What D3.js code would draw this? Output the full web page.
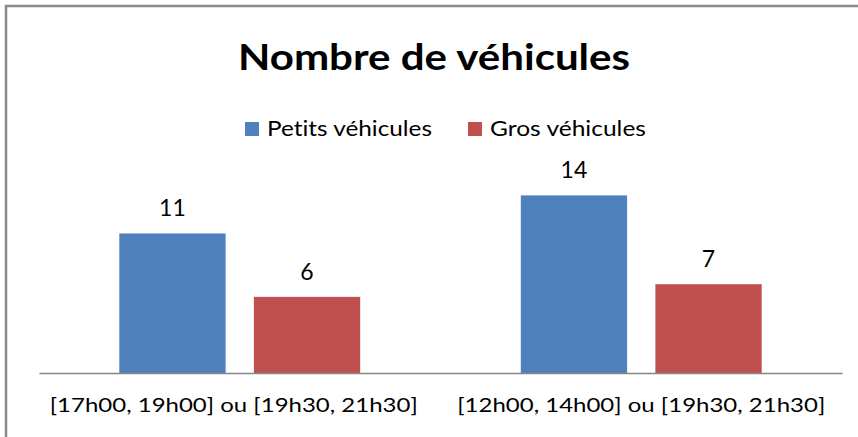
<!DOCTYPE html>
<html>
<head>
<meta charset="utf-8">
<script src="https://cdn.jsdelivr.net/npm/d3@7"></script>
<style>
  body { margin: 0; background: #fff; }
  svg { display: block; font-family: Lato, "Open Sans", sans-serif; font-variant-ligatures: none; }
</style>
</head>
<body>
<svg id="chart" width="858" height="437"></svg>
<script>
const categories = ['[17h00, 19h00] ou [19h30, 21h30]', '[12h00, 14h00] ou [19h30, 21h30]'];
const seriesNames = ['Petits véhicules', 'Gros véhicules'];
const petits = [11, 14];
const gros = [6, 7];
const colors = ['#4f81bd', '#c0504d'];

let svg = d3.select('#chart'),
    width = +svg.attr('width'),
    height = +svg.attr('height');

// outer frame (right and bottom edges are cut off in the original)
svg.append('rect')
    .attr('x', 6).attr('y', 6)
    .attr('width', width + 20).attr('height', height + 20)
    .attr('fill', 'none')
    .attr('stroke', '#8a8a8a')
    .attr('stroke-width', 2.5);

// title
svg.append('text')
    .attr('x', 434).attr('y', 70)
    .attr('text-anchor', 'middle')
    .attr('font-size', 36)
    .attr('font-weight', 'bold')
    .attr('fill', '#000')
    .attr('textLength', 392)
    .attr('lengthAdjust', 'spacingAndGlyphs')
    .text('Nombre de véhicules');

// legend
let legendX = [245, 468];
let legendW = [165, 156];
let legend = svg.append('g').attr('class', 'legend');
seriesNames.forEach(function (name, i) {
    legend.append('rect')
        .attr('x', legendX[i]).attr('y', 122)
        .attr('width', 14).attr('height', 14)
        .attr('fill', colors[i]);
    legend.append('text')
        .attr('x', legendX[i] + 22).attr('y', 136)
        .attr('font-size', 21)
        .attr('fill', '#000')
        .attr('textLength', legendW[i])
        .attr('lengthAdjust', 'spacingAndGlyphs')
        .text(name);
});

let rows = categories.map(function (c, i) {
    return {cat: c, values: [petits[i], gros[i]]};
});

let x0 = d3.scaleBand()
    .domain(categories)
    .range([39, 842])
    .padding(0);

let x1 = d3.scaleBand()
    .domain(seriesNames)
    .range([x0.bandwidth() * 0.2, x0.bandwidth() * 0.8])
    .paddingInner(0.21);

let y = d3.scaleLinear()
    .domain([0, 16])
    .range([373, 170]);

let groups = svg.append('g')
    .selectAll('g')
    .data(rows)
    .enter().append('g')
    .attr('transform', function (d) { return 'translate(' + x0(d.cat) + ',0)'; });

groups.selectAll('rect')
    .data(function (d) { return d.values.map(function (v, i) { return {name: seriesNames[i], value: v, i: i}; }); })
    .enter().append('rect')
    .attr('x', function (d) { return x1(d.name); })
    .attr('y', function (d) { return y(d.value); })
    .attr('width', x1.bandwidth())
    .attr('height', function (d) { return y(0) - y(d.value); })
    .attr('fill', function (d) { return colors[d.i]; });

groups.selectAll('text.value')
    .data(function (d) { return d.values.map(function (v, i) { return {name: seriesNames[i], value: v}; }); })
    .enter().append('text')
    .attr('class', 'value')
    .attr('x', function (d) { return x1(d.name) + x1.bandwidth() / 2; })
    .attr('y', function (d) { return y(d.value) - 17; })
    .attr('text-anchor', 'middle')
    .attr('font-size', 23)
    .attr('fill', '#000')
    .text(function (d) { return d.value; });

// category axis
let xAxis = svg.append('g')
    .attr('transform', 'translate(0,' + y(0) + ')')
    .call(d3.axisBottom(x0).tickSize(0).tickPadding(0));
xAxis.select('.domain').attr('stroke', '#868686').attr('stroke-width', 1.5);
xAxis.selectAll('.tick text')
    .attr('dy', 0)
    .attr('y', 39)
    .attr('x', function (d, i) { return i === 0 ? -6 : 0; })
    .attr('font-family', 'Lato, "Open Sans", sans-serif')
    .attr('font-size', 20)
    .attr('fill', '#000')
    .attr('textLength', 368)
    .attr('lengthAdjust', 'spacingAndGlyphs');
</script>
</body>
</html>
